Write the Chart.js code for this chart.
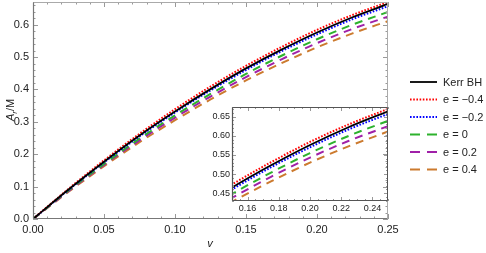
<!DOCTYPE html>
<html>
<head>
<meta charset="utf-8">
<script src="https://cdn.jsdelivr.net/npm/chart.js@4"></script>
<style>
  body { margin: 0; background: #fff; }
  #wrap { position: relative; width: 486px; height: 253px; }
  #main { position: absolute; left: 0; top: 0; }
  #inset { position: absolute; left: 200px; top: 100px; }
</style>
</head>
<body>
<div id="wrap">
  <canvas id="main" width="486" height="253"></canvas>
  <canvas id="inset" width="190" height="115"></canvas>
</div>
<script>
// v values (x axis)
const vValues = [0, 0.025, 0.05, 0.075, 0.1, 0.125, 0.15, 0.175, 0.2, 0.225, 0.25];

// A_r/M
const kerr    = [0, 0.091, 0.177, 0.258, 0.332, 0.401, 0.465, 0.523, 0.576, 0.623, 0.664];
const eMinus4 = [0, 0.093, 0.181, 0.263, 0.339, 0.409, 0.473, 0.531, 0.584, 0.630, 0.670];
const eMinus2 = [0, 0.090, 0.175, 0.255, 0.329, 0.397, 0.460, 0.518, 0.570, 0.617, 0.657];
const eZero   = [0, 0.088, 0.170, 0.248, 0.320, 0.386, 0.448, 0.504, 0.555, 0.600, 0.639];
const ePlus2  = [0, 0.086, 0.167, 0.243, 0.313, 0.378, 0.438, 0.493, 0.543, 0.587, 0.625];
const ePlus4  = [0, 0.084, 0.163, 0.237, 0.305, 0.369, 0.428, 0.481, 0.530, 0.573, 0.611];

const seriesLabels = ['Kerr BH', 'e = \u22120.4', 'e = \u22120.2', 'e = 0', 'e = 0.2', 'e = 0.4'];

// tick labels
const mainXTicks = [0, 0.05, 0.1, 0.15, 0.2, 0.25];
const mainYTicks = [0, 0.1, 0.2, 0.3, 0.4, 0.5, 0.6];
const insetXTicks = [0.16, 0.18, 0.2, 0.22, 0.24];
const insetYTicks = [0.45, 0.5, 0.55, 0.6, 0.65];

const styles = [
  { color: '#000000', width: 1.8, dash: [] },
  { color: '#ff0000', width: 2, dash: [1.6, 1.6] },
  { color: '#0000ff', width: 2, dash: [1.6, 1.6] },
  { color: '#2db22d', width: 2, dash: [8, 6] },
  { color: '#a020a8', width: 2, dash: [8, 6] },
  { color: '#cc7a2e', width: 2, dash: [8, 6] }
];

const FONT = "'Liberation Sans', Arial, sans-serif";

function makeDatasets() {
  return [kerr, eMinus4, eMinus2, eZero, ePlus2, ePlus4].map((ys, i) => ({
    label: seriesLabels[i],
    data: ys.map((y, k) => ({ x: vValues[k], y: y })),
    borderColor: styles[i].color,
    borderWidth: styles[i].width,
    borderDash: styles[i].dash,
    pointRadius: 0,
    fill: false,
    cubicInterpolationMode: 'monotone',
    order: i === 0 ? 0 : 1
  }));
}

function line(ctx, x1, y1, x2, y2) {
  ctx.beginPath();
  ctx.moveTo(x1, y1);
  ctx.lineTo(x2, y2);
  ctx.stroke();
}

// Mathematica-like frame with inward ticks
const frameTicks = {
  id: 'frameTicks',
  afterDraw(chart, args, o) {
    const { ctx, chartArea: a, scales } = chart;
    ctx.save();
    ctx.lineWidth = 1;
    ctx.strokeStyle = o.tickColor;
    const doTicks = (scale, step, every, horiz) => {
      const s = Math.ceil(scale.min / step - 1e-6);
      const e = Math.floor(scale.max / step + 1e-6);
      for (let i = s; i <= e; i++) {
        const len = i % every === 0 ? o.major : o.minor;
        const p = Math.round(scale.getPixelForValue(i * step)) + 0.5;
        if (horiz) {
          line(ctx, p, a.bottom, p, a.bottom - len);
          line(ctx, p, a.top, p, a.top + len);
        } else {
          line(ctx, a.left, p, a.left + len, p);
          line(ctx, a.right, p, a.right - len, p);
        }
      }
    };
    doTicks(scales.x, o.xStep, o.xEvery, true);
    doTicks(scales.y, o.yStep, o.yEvery, false);
    const l = Math.round(a.left) + 0.5, r = Math.round(a.right) - 0.5;
    const t = Math.round(a.top) + 0.5, b = Math.round(a.bottom) - 0.5;
    ctx.strokeStyle = o.farColor;
    line(ctx, l, t, r, t);
    line(ctx, r, t, r, b);
    ctx.strokeStyle = o.nearColor;
    ctx.lineWidth = o.nearWidth;
    line(ctx, l, t, l, b);
    line(ctx, l, b, r, b);
    ctx.restore();
  }
};

// legend + axis titles for the main plot
const extras = {
  id: 'extras',
  afterDraw(chart) {
    const ctx = chart.ctx;
    ctx.save();
    // legend
    const x0 = 410, x1 = 437, tx = 443;
    seriesLabels.forEach((lab, i) => {
      const y = 82 + i * 17.5;
      ctx.strokeStyle = styles[i].color;
      ctx.lineWidth = styles[i].width;
      ctx.setLineDash(i >= 3 ? [10, 7] : styles[i].dash);
      line(ctx, x0, y, x1, y);
      ctx.setLineDash([]);
      ctx.fillStyle = '#222';
      ctx.font = '11px ' + FONT;
      ctx.textBaseline = 'middle';
      ctx.textAlign = 'left';
      ctx.fillText(lab, tx, y + 0.5);
    });
    // x title
    ctx.font = 'italic 11px ' + FONT;
    ctx.textAlign = 'center';
    ctx.textBaseline = 'middle';
    ctx.fillText('v', 210, 244);
    // y title A_r/M, rotated
    ctx.translate(10, 110);
    ctx.rotate(-Math.PI / 2);
    ctx.textAlign = 'left';
    ctx.textBaseline = 'alphabetic';
    const fA = 'italic 11px ' + FONT, fr = 'italic 8px ' + FONT, fM = '11px ' + FONT;
    ctx.font = fA; const wA = ctx.measureText('A').width;
    ctx.font = fr; const wr = ctx.measureText('r').width;
    ctx.font = fM; const wM = ctx.measureText('/M').width;
    let x = -(wA + wr + wM) / 2;
    const base = 4;
    ctx.font = fA; ctx.fillText('A', x, base); x += wA;
    ctx.font = fr; ctx.fillText('r', x, base + 2.5); x += wr;
    ctx.font = fM; ctx.fillText('/M', x, base);
    ctx.restore();
  }
};

function axisOpts(min, max, ticks, size, padding, digits, fit) {
  return {
    type: 'linear',
    min: min,
    max: max,
    grid: { display: false, drawTicks: false },
    border: { display: false },
    afterBuildTicks: s => { s.ticks = ticks.map(v => ({ value: v })); },
    afterFit: s => {
      fit(s);
      s.paddingTop = 0; s.paddingBottom = 0;
      s.paddingLeft = 0; s.paddingRight = 0;
    },
    ticks: {
      padding: padding,
      color: '#222',
      font: { family: FONT, size: size },
      maxRotation: 0,
      autoSkip: false,
      callback: v => v.toFixed(digits)
    }
  };
}

new Chart(document.getElementById('main'), {
  type: 'line',
  data: { datasets: makeDatasets() },
  options: {
    responsive: false,
    animation: false,
    events: [],
    layout: { padding: { top: 2, right: 98, left: 0, bottom: 0 } },
    plugins: {
      legend: { display: false },
      tooltip: { enabled: false },
      frameTicks: { tickColor: '#999', farColor: '#aaa', nearColor: '#777', nearWidth: 1.2,
        major: 5, minor: 2.5, xStep: 0.01, xEvery: 5, yStep: 0.02, yEvery: 5 }
    },
    scales: {
      x: axisOpts(0, 0.25, mainXTicks, 11, 4, 2, s => { s.height = 34; }),
      y: axisOpts(0, 0.67, mainYTicks, 11, 4, 1, s => { s.width = 33; })
    }
  },
  plugins: [frameTicks, extras]
});

new Chart(document.getElementById('inset'), {
  type: 'line',
  data: { datasets: makeDatasets() },
  options: {
    responsive: false,
    animation: false,
    events: [],
    layout: { padding: { top: 7, right: 2, left: 0, bottom: 0 } },
    plugins: {
      legend: { display: false },
      tooltip: { enabled: false },
      frameTicks: { tickColor: '#999', farColor: '#555', nearColor: '#555', nearWidth: 1.2,
        major: 4, minor: 2, xStep: 0.005, xEvery: 4, yStep: 0.01, yEvery: 5 }
    },
    scales: {
      x: axisOpts(0.15, 0.25, insetXTicks, 9, 2, 2, s => { s.height = 14; }),
      y: axisOpts(0.43, 0.675, insetYTicks, 9, 2, 2, s => { s.width = 32; })
    }
  },
  plugins: [frameTicks]
});
</script>
</body>
</html>
